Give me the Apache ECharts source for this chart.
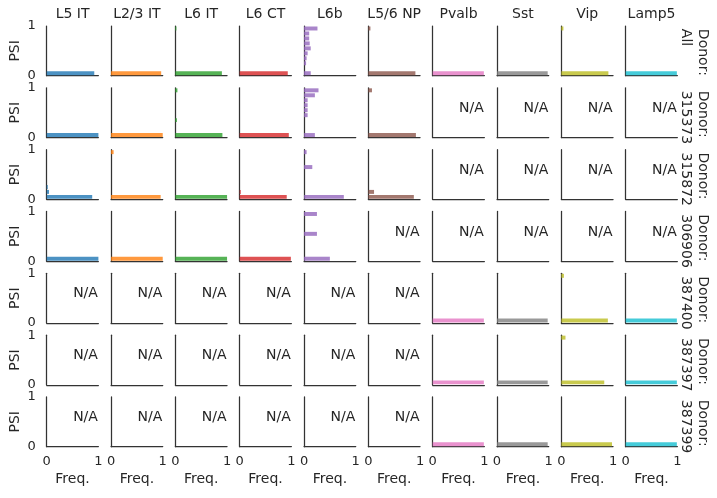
<!DOCTYPE html>
<html>
<head>
<meta charset="utf-8">
<script src="https://cdn.jsdelivr.net/npm/echarts@6/dist/echarts.min.js"></script>
<style>
  html, body { margin: 0; padding: 0; background: #fff; }
  #chart { width: 717px; height: 498px; }
</style>
</head>
<body>
<div id="chart"></div>
<script>
// PSI histograms, one panel per cell type (columns) and donor (rows)
const cellTypes = ['L5 IT', 'L2/3 IT', 'L6 IT', 'L6 CT', 'L6b', 'L5/6 NP', 'Pvalb', 'Sst', 'Vip', 'Lamp5'];
const donors = ['All', '315373', '315872', '306906', '387400', '387397', '387399'];
// PSI bins, bottom to top (0-0.1 ... 0.9-1.0)
const psiBins = ['0.0', '0.1', '0.2', '0.3', '0.4', '0.5', '0.6', '0.7', '0.8', '0.9'];
const psiTicks = [0, 1];
const freqTicks = [0, 1];

// frequency per PSI bin; null = N/A
const donorAll = [
  [0.92, 0, 0, 0, 0, 0, 0, 0, 0, 0],
  [0.97, 0, 0, 0, 0, 0, 0, 0, 0, 0],
  [0.90, 0, 0, 0, 0, 0, 0, 0, 0, 0.02],
  [0.93, 0, 0, 0, 0, 0, 0, 0, 0, 0],
  [0.13, 0, 0.04, 0.05, 0.07, 0.13, 0.11, 0.10, 0.10, 0.26],
  [0.91, 0, 0, 0, 0, 0, 0, 0, 0, 0.04],
  [0.99, 0, 0, 0, 0, 0, 0, 0, 0, 0],
  [0.98, 0, 0, 0, 0, 0, 0, 0, 0, 0],
  [0.91, 0, 0, 0, 0, 0, 0, 0, 0, 0.04],
  [0.99, 0, 0, 0, 0, 0, 0, 0, 0, 0]
];
const donor315373 = [
  [1.00, 0, 0, 0, 0, 0, 0, 0, 0, 0],
  [1.00, 0, 0, 0, 0, 0, 0, 0, 0, 0],
  [0.91, 0, 0, 0.03, 0, 0, 0, 0, 0, 0.04],
  [0.95, 0, 0, 0, 0, 0, 0, 0, 0, 0],
  [0.21, 0, 0, 0, 0.07, 0.07, 0.07, 0.07, 0.21, 0.28],
  [0.92, 0, 0, 0, 0, 0, 0, 0, 0, 0.07],
  null, null, null, null
];
const donor315872 = [
  [0.88, 0.045, 0.02, 0, 0, 0, 0, 0, 0, 0],
  [0.96, 0, 0, 0, 0, 0, 0, 0, 0, 0.05],
  [1.00, 0, 0, 0, 0, 0, 0, 0, 0, 0],
  [0.91, 0.02, 0, 0, 0, 0, 0, 0, 0, 0],
  [0.77, 0, 0, 0, 0, 0, 0.16, 0, 0, 0.05],
  [0.88, 0.11, 0, 0, 0, 0, 0, 0, 0, 0],
  null, null, null, null
];
const donor306906 = [
  [1.00, 0, 0, 0, 0, 0, 0, 0, 0, 0],
  [1.00, 0, 0, 0, 0, 0, 0, 0, 0, 0],
  [1.00, 0, 0, 0, 0, 0, 0, 0, 0, 0],
  [0.99, 0, 0, 0, 0, 0, 0, 0, 0, 0],
  [0.50, 0, 0, 0, 0, 0.25, 0, 0, 0, 0.25],
  null, null, null, null, null
];
const donor387400 = [
  null, null, null, null, null, null,
  [0.99, 0, 0, 0, 0, 0, 0, 0, 0, 0],
  [0.98, 0, 0, 0, 0, 0, 0, 0, 0, 0],
  [0.90, 0, 0, 0, 0, 0, 0, 0, 0, 0.05],
  [0.99, 0, 0, 0, 0, 0, 0, 0, 0, 0]
];
const donor387397 = [
  null, null, null, null, null, null,
  [0.99, 0, 0, 0, 0, 0, 0, 0, 0, 0],
  [0.98, 0, 0, 0, 0, 0, 0, 0, 0, 0],
  [0.83, 0, 0, 0, 0, 0, 0, 0, 0, 0.08],
  [0.99, 0, 0, 0, 0, 0, 0, 0, 0, 0]
];
const donor387399 = [
  null, null, null, null, null, null,
  [0.99, 0, 0, 0, 0, 0, 0, 0, 0, 0],
  [0.98, 0, 0, 0, 0, 0, 0, 0, 0, 0],
  [0.98, 0, 0, 0, 0, 0, 0, 0, 0, 0],
  [0.99, 0, 0, 0, 0, 0, 0, 0, 0, 0]
];
const panels = [donorAll, donor315373, donor315872, donor306906, donor387400, donor387397, donor387399];

const palette = ['#1f77b4', '#ff7f0e', '#2ca02c', '#d62728', '#9467bd', '#8c564b', '#e377c2', '#7f7f7f', '#bcbd22', '#17becf'];

// layout
const left0 = 46.7, colStep = 64.33, gw = 51.7;
const top0 = 26, rowStep = 61.83, gh = 49.7;
const font = 'DejaVu Sans';
const ink = '#262626';
const axisLine = { show: true, onZero: false, lineStyle: { color: '#333', width: 1.25 } };

const grid = [], xAxis = [], yAxis = [], series = [], graphic = [];

donors.forEach((donor, r) => {
  cellTypes.forEach((ct, c) => {
    const idx = r * cellTypes.length + c;
    const gl = left0 + c * colStep;
    const gt = top0 + r * rowStep;
    const bottomRow = r === donors.length - 1;
    const firstCol = c === 0;
    grid.push({ left: gl, top: gt, width: gw, height: gh });
    xAxis.push({
      type: 'value', gridIndex: idx, position: 'bottom',
      min: freqTicks[0], max: freqTicks[1], interval: 1,
      axisLine, axisTick: { show: false }, splitLine: { show: false },
      axisLabel: { show: bottomRow, color: ink, fontFamily: font, fontSize: 13, margin: 8 },
      name: bottomRow ? 'Freq.' : '', nameLocation: 'middle', nameGap: 26,
      nameTextStyle: { color: ink, fontFamily: font, fontSize: 14 }
    });
    // hidden category axis carrying the PSI bins
    yAxis.push({
      type: 'category', gridIndex: idx, position: 'right', data: psiBins, show: false
    });
    yAxis.push({
      type: 'value', gridIndex: idx, position: 'left',
      min: psiTicks[0], max: psiTicks[1], interval: 1,
      axisLine, axisTick: { show: false }, splitLine: { show: false },
      axisLabel: { show: firstCol, color: ink, fontFamily: font, fontSize: 13, margin: 11 },
      name: firstCol ? 'PSI' : '', nameLocation: 'middle', nameGap: 24, nameRotate: 90,
      nameTextStyle: { color: ink, fontFamily: font, fontSize: 14 }
    });
    const vals = panels[r][c];
    if (vals) {
      series.push({
        type: 'bar', xAxisIndex: idx, yAxisIndex: idx * 2,
        data: vals, barCategoryGap: '20%', silent: true,
        itemStyle: { color: palette[c], opacity: 0.8 }
      });
    } else {
      graphic.push({
        type: 'text', x: gl + gw - 0.5, y: gt + gh * 0.41,
        style: { text: 'N/A', fill: ink, font: '14px ' + font, align: 'right', verticalAlign: 'middle' }
      });
    }
    if (r === 0) {
      graphic.push({
        type: 'text', x: gl + gw / 2, y: 14.5,
        style: { text: ct, fill: ink, font: '14px ' + font, align: 'center', verticalAlign: 'middle' }
      });
    }
  });
  graphic.push({
    type: 'text', x: 694, y: top0 + r * rowStep + gh / 2 - 22, rotation: -Math.PI / 2,
    style: { text: 'Donor:\n' + donor, fill: ink, font: '14px ' + font, lineHeight: 16.5, align: 'left', verticalAlign: 'middle' }
  });
});

const chart = echarts.init(document.getElementById('chart'), null, { renderer: 'canvas' });
chart.setOption({
  animation: false,
  backgroundColor: '#fff',
  grid, xAxis, yAxis, series, graphic
});
</script>
</body>
</html>
